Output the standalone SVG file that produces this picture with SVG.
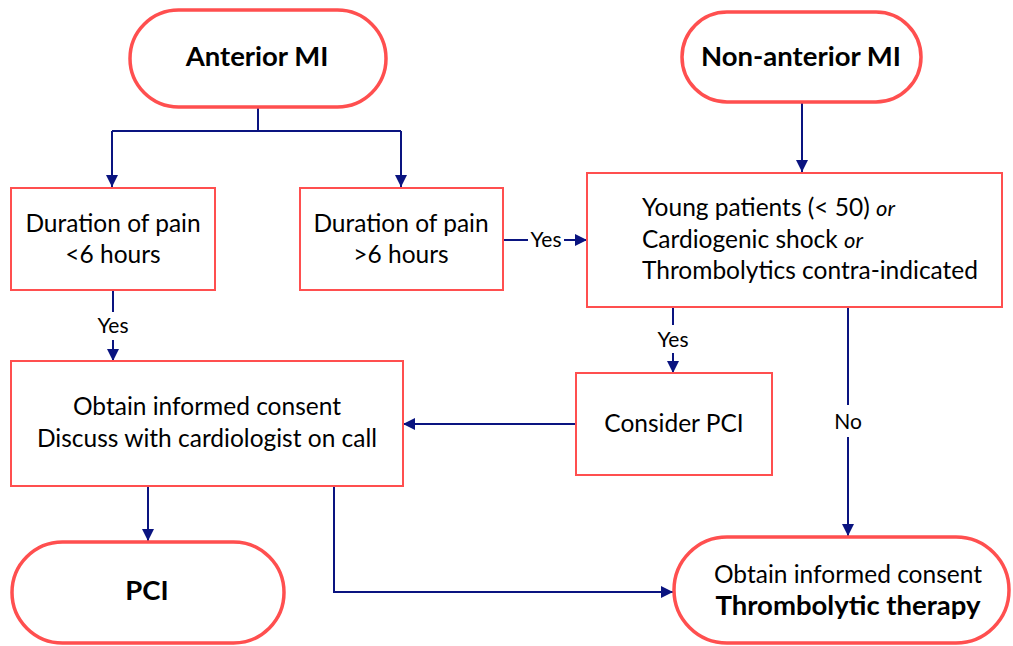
<svg xmlns="http://www.w3.org/2000/svg" width="1013" height="646" viewBox="0 0 1013 646">
<defs>
<marker id="ah" viewBox="0 0 12 12" refX="12" refY="6" markerWidth="12" markerHeight="12" markerUnits="userSpaceOnUse" orient="auto">
<path d="M0,0 L12,6 L0,12 z" fill="#0a1480"/>
</marker>
<style>
.term{fill:#fff;stroke:#ff4f4f;stroke-width:3.5}
.box{fill:#fff;stroke:#ff4f4f;stroke-width:2}
.t{font-family:Lato,"Open Sans",sans-serif;font-size:24.5px;fill:#000;text-anchor:middle}
.b{font-weight:bold;font-size:27.5px}
.lbl{font-family:Lato,"Open Sans",sans-serif;font-size:21px;fill:#000;text-anchor:middle}
.c{fill:none;stroke:#0a1480;stroke-width:2}
</style>
</defs>
<rect width="1013" height="646" fill="#fff"/>
<g id="connectors">
<path class="c" d="M258,107 V131 M112,131 H401"/>
<path class="c" d="M112,131 V187" marker-end="url(#ah)"/>
<path class="c" d="M401,131 V187" marker-end="url(#ah)"/>
<path class="c" d="M802,102 V172" marker-end="url(#ah)"/>
<path class="c" d="M503,240 H528"/>
<path class="c" d="M564,240 H587" marker-end="url(#ah)"/>
<text class="lbl" x="546" y="247">Yes</text>
<path class="c" d="M113,290 V312"/>
<path class="c" d="M113,340 V361" marker-end="url(#ah)"/>
<text class="lbl" x="113" y="333">Yes</text>
<path class="c" d="M673,307 V325"/>
<path class="c" d="M673,353 V373" marker-end="url(#ah)"/>
<text class="lbl" x="673" y="347">Yes</text>
<path class="c" d="M576,424 H403" marker-end="url(#ah)"/>
<path class="c" d="M848,307 V405"/>
<path class="c" d="M848,437 V536" marker-end="url(#ah)"/>
<text class="lbl" x="848" y="429">No</text>
<path class="c" d="M148,486 V541" marker-end="url(#ah)"/>
<path class="c" d="M334,486 V592 H673" marker-end="url(#ah)"/>
</g>
<g id="anterior">
<rect class="term" x="130" y="10" width="256" height="97" rx="48.5"/>
<text class="t b" x="257" y="66">Anterior MI</text>
</g>
<g id="nonanterior">
<rect class="term" x="682" y="12" width="239" height="90" rx="45"/>
<text class="t b" x="801" y="66">Non-anterior MI</text>
</g>
<g id="dur-lt6">
<rect class="box" x="11" y="188" width="204" height="102"/>
<text class="t" x="113" y="232">Duration of pain</text>
<text class="t" x="113" y="263">&lt;6 hours</text>
</g>
<g id="dur-gt6">
<rect class="box" x="300" y="188" width="203" height="102"/>
<text class="t" x="401" y="232">Duration of pain</text>
<text class="t" x="401" y="263">&gt;6 hours</text>
</g>
<g id="criteria">
<rect class="box" x="587" y="173" width="415" height="134"/>
<text class="t" x="642" y="216" style="text-anchor:start">Young patients (&lt; 50) <tspan font-style="italic" font-size="22">or</tspan></text>
<text class="t" x="642" y="248" style="text-anchor:start">Cardiogenic shock <tspan font-style="italic" font-size="22">or</tspan></text>
<text class="t" x="642" y="279" style="text-anchor:start">Thrombolytics contra-indicated</text>
</g>
<g id="consent-discuss">
<rect class="box" x="11" y="361" width="392" height="125"/>
<text class="t" x="207" y="415">Obtain informed consent</text>
<text class="t" x="207" y="447">Discuss with cardiologist on call</text>
</g>
<g id="consider-pci">
<rect class="box" x="576" y="373" width="196" height="102"/>
<text class="t" x="674" y="432">Consider PCI</text>
</g>
<g id="pci">
<rect class="term" x="12" y="542" width="272" height="101" rx="50.5"/>
<text class="t b" x="147" y="600">PCI</text>
</g>
<g id="thrombolytic">
<rect class="term" x="674" y="537" width="335" height="106" rx="53"/>
<text class="t" x="848" y="583">Obtain informed consent</text>
<text class="t b" x="848" y="615">Thrombolytic therapy</text>
</g>
</svg>
